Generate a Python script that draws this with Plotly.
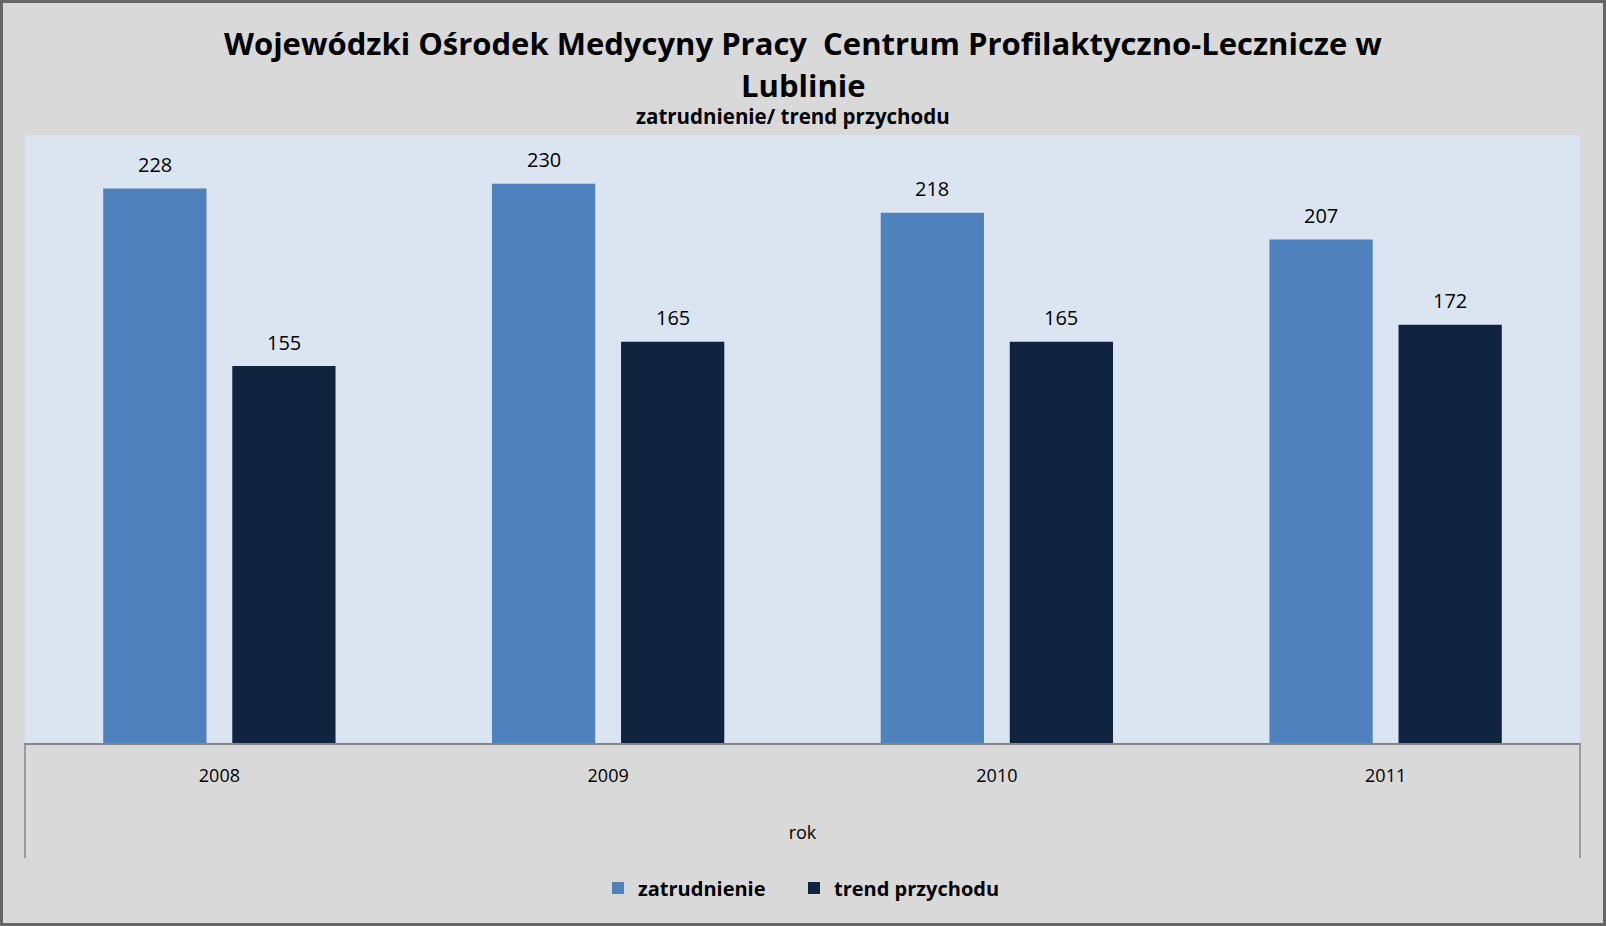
import plotly.graph_objects as go

years = ["2008", "2009", "2010", "2011"]
zatrudnienie = [228, 230, 218, 207]
trend_przychodu = [155, 165, 165, 172]

FONT = "Open Sans"
W, H = 1606, 926
L, R, T, B = 25, 26, 135, 183
PW, PH = W - L - R, H - T - B
BARGAP = 0.336


def px_x(px):
    return (px - L) / PW


def px_y(py):
    return (H - B - py) / PH


series = [
    ("zatrudnienie", zatrudnienie, "#4f81bd", "legend", 598),
    ("trend przychodu", trend_przychodu, "#11243f", "legend2", 794),
]

fig = go.Figure()
for name, vals, col, leg, _ in series:
    fig.add_trace(go.Bar(
        x=years, y=vals, name=name, legend=leg,
        marker=dict(color=col, line=dict(width=0)),
        hoverinfo="x+y+name",
    ))

# value labels placed above each bar (category index, offset to bar slot)
cat_w = PW / len(years)
slot = cat_w * (1 - BARGAP) / len(series)
label_ann = []
for i, (name, vals, col, leg, _) in enumerate(series):
    dx = (i - (len(series) - 1) / 2) * slot
    for k, v in enumerate(vals):
        label_ann.append(dict(
            x=k, y=v, xref="x", yref="y", text=str(v), showarrow=False,
            xanchor="center", yanchor="middle", xshift=dx, yshift=24,
            font=dict(family=FONT, size=20, color="#000000"),
        ))

legend_style = dict(
    orientation="h", xanchor="left", y=px_y(888), yanchor="middle",
    font=dict(family=FONT, size=20, color="#000000", weight="bold"),
    bgcolor="rgba(0,0,0,0)", itemwidth=30,
)

fig.update_layout(
    width=W, height=H,
    margin=dict(l=L, r=R, t=T, b=B, autoexpand=False),
    paper_bgcolor="#d9d9d9",
    plot_bgcolor="#dbe5f1",
    barmode="group",
    bargap=BARGAP,
    bargroupgap=0.2,
    font=dict(family=FONT, color="#000000"),
    showlegend=True,
    legend=dict(x=px_x(series[0][4]), **legend_style),
    legend2=dict(x=px_x(series[1][4]), **legend_style),
    xaxis=dict(
        type="category", showgrid=False, zeroline=False,
        range=[-0.5, len(years) - 0.5],
        showline=True, linecolor="#868686", linewidth=1.5,
        ticks="outside", ticklen=16, tickcolor="rgba(0,0,0,0)",
        tickfont=dict(family=FONT, size=18, color="#000000"),
        title=dict(text="rok", font=dict(family=FONT, size=18, color="#000000"), standoff=40),
        automargin=False, fixedrange=True,
    ),
    yaxis=dict(
        range=[0, 250], visible=False, showgrid=False, zeroline=False,
        fixedrange=True,
    ),
    annotations=[
        dict(text="<b>Wojewódzki Ośrodek Medycyny Pracy  Centrum Profilaktyczno-Lecznicze w</b>",
             xref="paper", yref="paper", x=px_x(803), y=px_y(43),
             xanchor="center", yanchor="middle", showarrow=False,
             font=dict(family=FONT, size=31, color="#000000")),
        dict(text="<b>Lublinie</b>",
             xref="paper", yref="paper", x=px_x(803), y=px_y(85),
             xanchor="center", yanchor="middle", showarrow=False,
             font=dict(family=FONT, size=31, color="#000000")),
        dict(text="<b>zatrudnienie/ trend przychodu</b>",
             xref="paper", yref="paper", x=px_x(793), y=px_y(116),
             xanchor="center", yanchor="middle", showarrow=False,
             font=dict(family=FONT, size=20.5, color="#000000")),
    ] + label_ann,
    shapes=[
        dict(type="rect", xref="paper", yref="paper",
             x0=px_x(1.5), x1=px_x(W - 1.5), y0=px_y(H - 1.5), y1=px_y(1.5),
             line=dict(color="#666666", width=3), fillcolor="rgba(0,0,0,0)", layer="above"),
        dict(type="line", xref="paper", yref="paper",
             x0=0, x1=0, y0=0, y1=px_y(858),
             line=dict(color="#868686", width=1.5)),
        dict(type="line", xref="paper", yref="paper",
             x0=1, x1=1, y0=0, y1=px_y(858),
             line=dict(color="#868686", width=1.5)),
    ],
)

fig.write_html(
    "out.html",
    config={"displayModeBar": False},
    post_script="document.body.style.margin='0';document.body.style.overflow='hidden';",
)
